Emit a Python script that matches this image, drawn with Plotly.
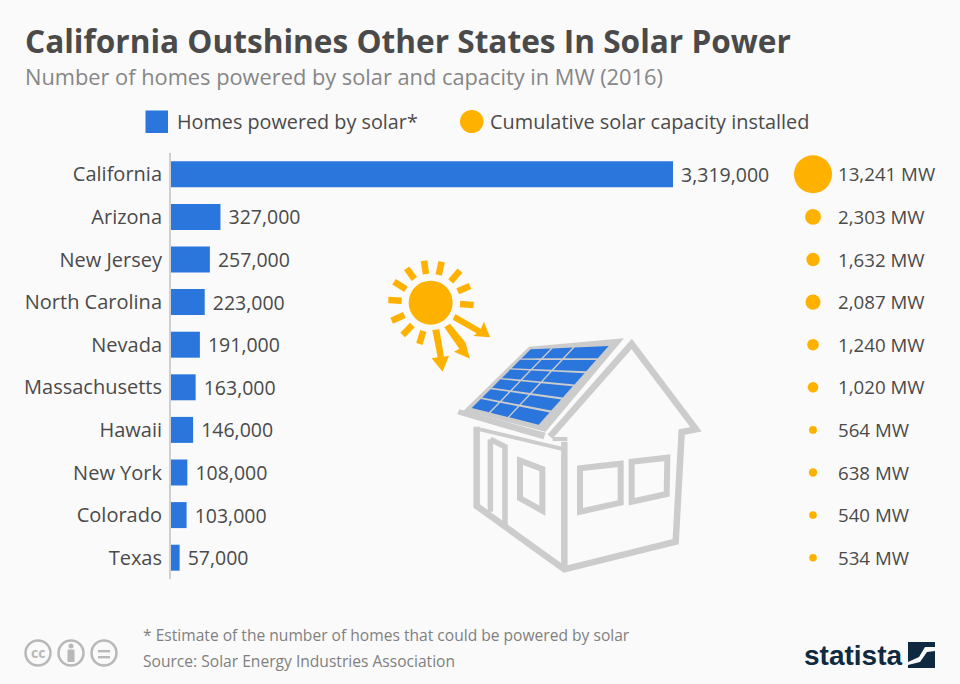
import plotly.graph_objects as go

states = ["California", "Arizona", "New Jersey", "North Carolina", "Nevada",
          "Massachusetts", "Hawaii", "New York", "Colorado", "Texas"]
homes = [3319000, 327000, 257000, 223000, 191000, 163000, 146000, 108000, 103000, 57000]
capacity = [13241, 2303, 1632, 2087, 1240, 1020, 564, 638, 540, 534]
capacity_labels = ["13,241 MW", "2,303 MW", "1,632 MW", "2,087 MW", "1,240 MW",
                   "1,020 MW", "564 MW", "638 MW", "540 MW", "534 MW"]

W, H = 960, 684
BLUE, AMBER, GRAY, TXT = "#2b76dc", "#ffb100", "#cccccc", "#4a4a4a"
FONT = "Open Sans"


def fx(x):
    return x / W


def fy(y):
    return 1 - y / H


def zp(p):
    # illustration points are measured in a crop of the picture
    return (fx(380 + p[0] / 3), fy(250 + p[1] / 3))


def path(points, closed=True):
    s = "M " + " L ".join(f"{x:.5f},{y:.5f}" for x, y in (zp(p) for p in points))
    return s + (" Z" if closed else "")


def poly(points, color=GRAY):
    return dict(type="path", xref="paper", yref="paper", path=path(points),
                fillcolor=color, line=dict(width=0), layer="above")


def stroke(points, width=6.5, color=GRAY, closed=False):
    return dict(type="path", xref="paper", yref="paper", path=path(points, closed),
                line=dict(color=color, width=width), layer="above")


shapes = []
# house walls
shapes.append(stroke([(510, 560), (755, 282), (948, 538), (905, 546), (887, 875),
                      (553, 958), (290, 768), (290, 530)]))
shapes.append(stroke([(553, 575), (553, 958)]))
shapes.append(stroke([(300, 538), (553, 598)], 4))
shapes.append(stroke([(518, 567), (562, 567)], 4))
shapes.append(stroke([(331, 568), (331, 785)], 5.5))
shapes.append(stroke([(331, 568), (375, 590), (375, 825)], 5.5))
shapes.append(stroke([(420, 632), (487, 657), (487, 782), (420, 745)], 6, closed=True))
shapes.append(stroke([(600, 655), (722, 641), (722, 758), (600, 785)], 6, closed=True))
shapes.append(stroke([(755, 635), (862, 623), (860, 732), (755, 755)], 6, closed=True))
# roof
shapes.append(poly([(232, 493), (238, 478), (497, 548), (490, 568)]))
shapes.append(poly([(250, 483), (447, 290), (732, 265), (497, 545)]))
# solar cells
TL, TR, BL, BR = (452, 298), (686, 288), (275, 474), (476, 524)
cols = [0, 0.27, 0.55, 1]
rows = [0, 1 / 6, 2 / 6, 3 / 6, 4 / 6, 5 / 6, 1]
gap = 0.012


def bil(u, v):
    tx = TL[0] + (TR[0] - TL[0]) * u
    ty = TL[1] + (TR[1] - TL[1]) * u
    bx = BL[0] + (BR[0] - BL[0]) * u
    by = BL[1] + (BR[1] - BL[1]) * u
    return (tx + (bx - tx) * v, ty + (by - ty) * v)


for i in range(3):
    for j in range(6):
        u0, u1 = cols[i] + (gap if i else 0), cols[i + 1] - (gap if i < 2 else 0)
        v0, v1 = rows[j] + (gap if j else 0), rows[j + 1] - (gap if j < 5 else 0)
        shapes.append(poly([bil(u0, v0), bil(u1, v0), bil(u1, v1), bil(u0, v1)], BLUE))
# sun
cx, cy = zp((152, 158))
shapes.append(dict(type="circle", xref="paper", yref="paper", layer="above",
                   x0=cx - 22 / W, x1=cx + 22 / W, y0=cy - 22 / H, y1=cy + 22 / H,
                   fillcolor=AMBER, line=dict(width=0)))
for a, b in [((132, 32), (138, 72)), ((185, 35), (176, 75)), ((240, 62), (212, 94)),
             ((270, 108), (233, 124)), ((281, 165), (240, 162)), ((80, 55), (103, 87)),
             ((42, 95), (78, 118)), ((25, 150), (65, 152)), ((35, 212), (73, 195)),
             ((68, 255), (97, 225)), ((118, 282), (130, 243))]:
    shapes.append(stroke([a, b], 6.5, AMBER))
for pts in [[(226, 192), (302, 236), (312, 215), (330, 262), (280, 258), (290, 250), (218, 209)],
            [(210, 221), (257, 278), (255, 272), (270, 326), (222, 305), (238, 296), (193, 232)],
            [(178, 238), (192, 320), (207, 317), (188, 365), (155, 325), (173, 322), (157, 240)]]:
    shapes.append(poly(pts, AMBER))

# legend marks
shapes.append(dict(type="rect", xref="paper", yref="paper", x0=fx(145.5), x1=fx(168),
                   y0=fy(133), y1=fy(110.5), fillcolor=BLUE, line=dict(width=0)))
shapes.append(dict(type="circle", xref="paper", yref="paper", x0=fx(460), x1=fx(483.5),
                   y0=fy(133), y1=fy(110), fillcolor=AMBER, line=dict(width=0)))

# licence icons
for c in (38, 71, 104):
    shapes.append(dict(type="circle", xref="paper", yref="paper", x0=fx(c - 12.5), x1=fx(c + 12.5),
                       y0=fy(665.5), y1=fy(640.5), line=dict(color="#b8b8b8", width=2.5)))
shapes.append(dict(type="circle", xref="paper", yref="paper", x0=fx(68.5), x1=fx(73.5),
                   y0=fy(648.5), y1=fy(643.5), fillcolor="#b8b8b8", line=dict(width=0)))
shapes.append(dict(type="rect", xref="paper", yref="paper", x0=fx(67.5), x1=fx(74.5),
                   y0=fy(662), y1=fy(649.5), fillcolor="#b8b8b8", line=dict(width=0)))
for yy in (650, 656):
    shapes.append(dict(type="rect", xref="paper", yref="paper", x0=fx(98), x1=fx(110),
                       y0=fy(yy + 2.4), y1=fy(yy), fillcolor="#b8b8b8", line=dict(width=0)))
# logo mark
shapes.append(dict(type="rect", xref="paper", yref="paper", x0=fx(908), x1=fx(935),
                   y0=fy(668), y1=fy(642), fillcolor="#0f2a40", line=dict(width=0)))
swoosh = [(935, 647), (925, 647), (919, 657), (908, 662), (908, 665), (920, 662), (927, 652), (935, 651)]
shapes.append(dict(type="path", xref="paper", yref="paper",
                   path="M " + " L ".join(f"{fx(x):.5f},{fy(y):.5f}" for x, y in swoosh) + " Z",
                   fillcolor="#fafafa", line=dict(width=0)))


def note(x, y, text, size, color=TXT, weight=None, family=FONT, xanchor="left"):
    label = f"<b>{text}</b>" if weight else text
    return dict(xref="paper", yref="paper", x=fx(x), y=fy(y), text=label, showarrow=False,
                xanchor=xanchor, yanchor="middle", align="left",
                font=dict(size=size, color=color, family=family))


annotations = [
    note(23, 40, "California Outshines Other States In Solar Power", 31.6, TXT, True),
    note(23, 77, "Number of homes powered by solar and capacity in MW (2016)", 21.8, "#868686"),
    note(175, 121, "Homes powered by solar*", 19.8, TXT),
    note(488, 121, "Cumulative solar capacity installed", 19.9, TXT),
    note(141, 635, "* Estimate of the number of homes that could be powered by solar", 15.6, "#808080"),
    note(141, 661, "Source: Solar Energy Industries Association", 15.6, "#808080"),
    note(38, 652.5, "cc", 14, "#b8b8b8", True, xanchor="center"),
    note(802, 655, "statista", 28, "#0f2a40", True, "Liberation Sans"),
]

fig = go.Figure()
fig.add_trace(go.Bar(x=homes, y=states, orientation="h", marker=dict(color=BLUE, line=dict(width=0)),
                     text=[f"\u00a0{v:,}" for v in homes], textposition="outside", cliponaxis=False,
                     textfont=dict(size=19.5, color=TXT, family=FONT), constraintext="none",
                     xaxis="x", yaxis="y", showlegend=False))
fig.add_trace(go.Scatter(x=["bubble"] * len(states), y=states, mode="markers",
                         marker=dict(size=capacity, sizemode="area", sizeref=2 * max(capacity) / 38 ** 2,
                                     color=AMBER, opacity=1, line=dict(width=0)),
                         cliponaxis=False, xaxis="x2", yaxis="y", showlegend=False))
fig.add_trace(go.Scatter(x=["label"] * len(states), y=states, mode="text", text=capacity_labels,
                         textposition="middle right", cliponaxis=False,
                         textfont=dict(size=18.7, color=TXT, family=FONT),
                         xaxis="x2", yaxis="y2", showlegend=False))

fig.update_layout(
    width=W, height=H, margin=dict(l=0, r=0, t=0, b=0),
    paper_bgcolor="#fafafa", plot_bgcolor="rgba(0,0,0,0)",
    font=dict(family=FONT, color=TXT),
    bargap=0.39, shapes=shapes, annotations=annotations,
    xaxis=dict(domain=[fx(171), fx(790)], range=[0, homes[0] * 619 / 502], visible=False),
    xaxis2=dict(domain=[fx(790), 1], type="category", categoryorder="array",
                categoryarray=["bubble", "label"], range=[-0.92, 5.88], visible=False),
    yaxis=dict(domain=[fy(579), fy(153)], range=[9.5, -0.5], type="category",
               categoryorder="array", categoryarray=states, showgrid=False, zeroline=False,
               showline=True, linecolor="#cfcfcf", linewidth=2, ticks="outside",
               ticklen=3, tickcolor="rgba(0,0,0,0)", tickfont=dict(size=20, color=TXT, family=FONT)),
    yaxis2=dict(domain=[fy(581.5), fy(155.5)], range=[9.5, -0.5], type="category",
                categoryorder="array", categoryarray=states, visible=False, anchor="x2"),
)
fig.write_html("out.html", post_script="document.body.style.margin='0';",
               config=dict(displayModeBar=False))
